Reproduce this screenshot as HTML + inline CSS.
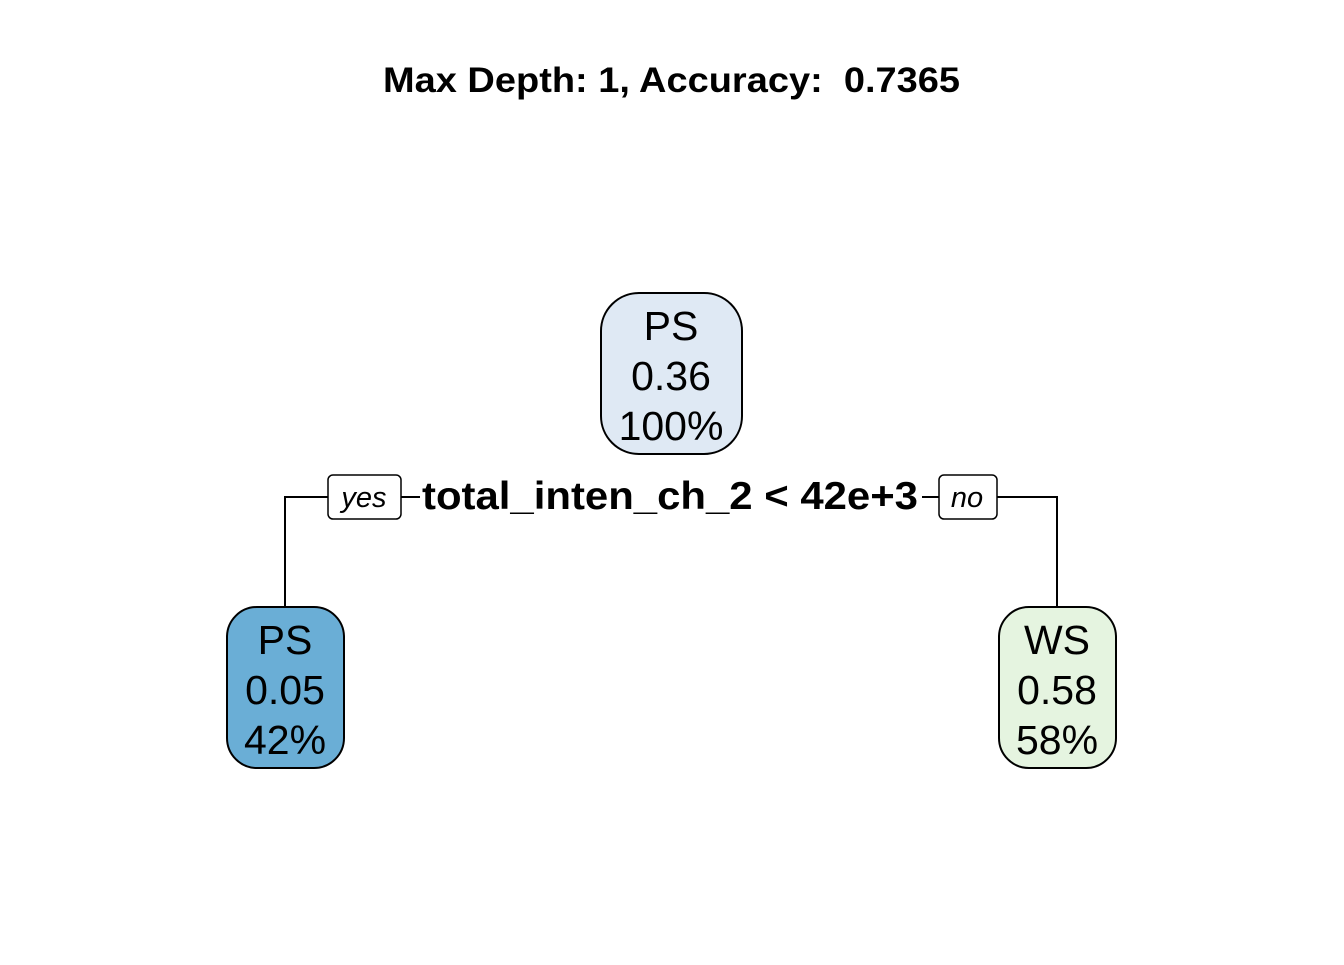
<!DOCTYPE html>
<html><head><style>body{margin:0;background:#fff}</style></head><body>
<svg width="1344" height="960" xmlns="http://www.w3.org/2000/svg" font-family="Liberation Sans, sans-serif">
<rect width="1344" height="960" fill="#fff"/>
<text x="383" y="92" font-size="35" font-weight="bold" textLength="577" lengthAdjust="spacingAndGlyphs" style="white-space:pre">Max Depth: 1, Accuracy:  0.7365</text>
<g stroke="#000" stroke-width="2" fill="none">
<path d="M285 606 V497 H328"/><path d="M401 497 H420"/>
<path d="M1057 606 V497 H997"/><path d="M939 497 H922"/>
</g>
<rect x="601" y="293" width="141" height="161" rx="38" fill="#dfe9f4" stroke="#000" stroke-width="2"/>
<rect x="227" y="607" width="117" height="161" rx="30" fill="#6aaed6" stroke="#000" stroke-width="2"/>
<rect x="999" y="607" width="117" height="161" rx="30" fill="#e5f4e0" stroke="#000" stroke-width="2"/>
<rect x="328" y="475" width="73" height="44" rx="5" fill="#fff" stroke="#000" stroke-width="1.5"/>
<rect x="939" y="475" width="58" height="44" rx="5" fill="#fff" stroke="#000" stroke-width="1.5"/>
<g font-size="41" text-anchor="middle">
<text x="671" y="340">PS</text><text x="671" y="390">0.36</text><text x="671" y="440">100%</text>
<text x="285" y="654">PS</text><text x="285" y="704">0.05</text><text x="285" y="754">42%</text>
<text x="1057" y="654">WS</text><text x="1057" y="704">0.58</text><text x="1057" y="754">58%</text>
</g>
<text x="364" y="507" font-size="29" font-style="italic" text-anchor="middle">yes</text>
<text x="967" y="507" font-size="29" font-style="italic" text-anchor="middle">no</text>
<text x="422" y="509" font-size="39" font-weight="bold" textLength="496" lengthAdjust="spacingAndGlyphs">total_inten_ch_2 &lt; 42e+3</text>
</svg>
</body></html>
